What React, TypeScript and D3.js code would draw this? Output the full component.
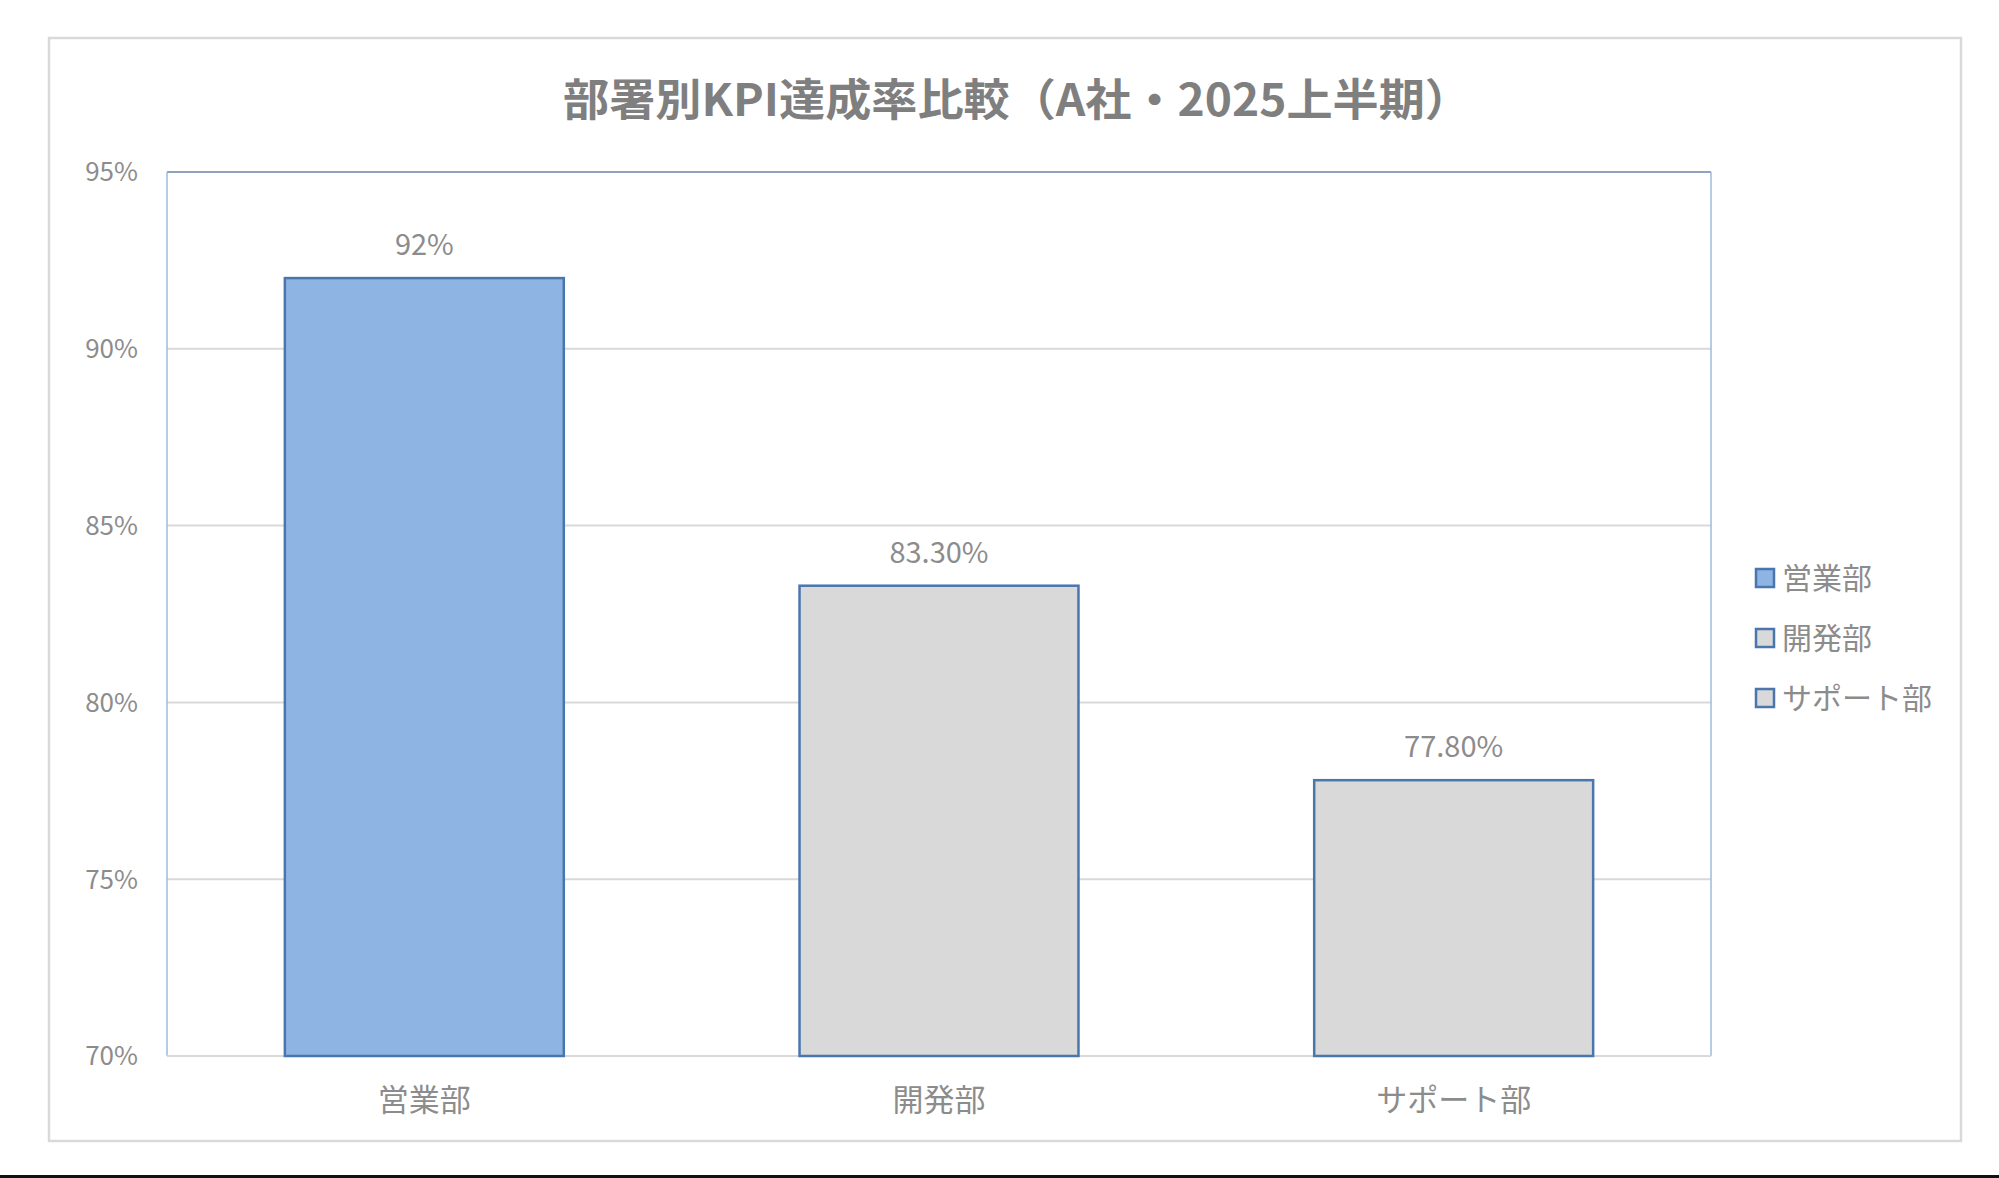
import React, { useEffect, useRef } from 'react';
import * as d3 from 'd3';

const departments = ['営業部', '開発部', 'サポート部'];
const kpiRates = [92, 83.3, 77.8];
const rateLabels = ['92%', '83.30%', '77.80%'];
const barFills = ['#8EB4E3', '#D9D9D9', '#D9D9D9'];
const yTicks = [70, 75, 80, 85, 90, 95];
const chartTitle = '部署別KPI達成率比較（A社・2025上半期）';

const W = 1999;
const H = 1178;
const FONT = '"Noto Sans CJK JP", "Noto Sans", sans-serif';

export default function App() {
  const svgRef = useRef<SVGSVGElement>(null);

  useEffect(() => {
    document.body.style.margin = '0';
    if (!svgRef.current) return;

    const svg = d3.select(svgRef.current);
    svg.selectAll('*').remove();

    const plot = { left: 167, top: 172, right: 1711, bottom: 1056 };

    svg.append('rect').attr('width', W).attr('height', H).attr('fill', '#ffffff');

    // outer chart border
    svg.append('rect')
      .attr('x', 49).attr('y', 38)
      .attr('width', 1912).attr('height', 1103)
      .attr('fill', 'none')
      .attr('stroke', '#D9D9D9')
      .attr('stroke-width', 2.5);

    // dark strip at the very bottom of the screenshot
    svg.append('rect').attr('x', 0).attr('y', H - 3).attr('width', W).attr('height', 3).attr('fill', '#111');

    svg.append('text')
      .attr('x', 1017).attr('y', 116)
      .attr('text-anchor', 'middle')
      .attr('textLength', 908)
      .attr('lengthAdjust', 'spacingAndGlyphs')
      .style('font-family', FONT)
      .style('font-size', '44px')
      .style('font-weight', 700)
      .style('fill', '#7F7F7F')
      .text(chartTitle);

    const x = d3.scaleBand<string>()
      .domain(departments)
      .range([plot.left, plot.right])
      .paddingInner(0.458)
      .paddingOuter(0.229);

    const y = d3.scaleLinear()
      .domain([70, 95])
      .range([plot.bottom, plot.top]);

    // gridlines
    svg.append('g')
      .selectAll('line')
      .data(yTicks.filter(t => t !== 70 && t !== 95))
      .join('line')
      .attr('x1', plot.left).attr('x2', plot.right)
      .attr('y1', d => y(d)).attr('y2', d => y(d))
      .attr('stroke', '#D9D9D9')
      .attr('stroke-width', 2);

    // plot area frame
    svg.append('line')
      .attr('x1', plot.left).attr('x2', plot.right)
      .attr('y1', plot.top).attr('y2', plot.top)
      .attr('stroke', '#8FA3BA').attr('stroke-width', 2);
    svg.append('line')
      .attr('x1', plot.left).attr('x2', plot.left)
      .attr('y1', plot.top).attr('y2', plot.bottom)
      .attr('stroke', '#9DBBDB').attr('stroke-width', 1.5);
    svg.append('line')
      .attr('x1', plot.right).attr('x2', plot.right)
      .attr('y1', plot.top).attr('y2', plot.bottom)
      .attr('stroke', '#9DBBDB').attr('stroke-width', 1.5);
    svg.append('line')
      .attr('x1', plot.left).attr('x2', plot.right)
      .attr('y1', plot.bottom).attr('y2', plot.bottom)
      .attr('stroke', '#D9D9D9').attr('stroke-width', 2);

    // y tick labels
    svg.append('g')
      .selectAll('text')
      .data(yTicks)
      .join('text')
      .attr('x', 138)
      .attr('y', d => y(d))
      .attr('dy', '0.36em')
      .attr('text-anchor', 'end')
      .style('font-family', FONT)
      .style('font-size', '26px')
      .style('fill', '#8C8C8C')
      .text(d => `${d}%`);

    // bars
    svg.append('g')
      .selectAll('rect')
      .data(departments)
      .join('rect')
      .attr('x', d => x(d)!)
      .attr('y', (d, i) => y(kpiRates[i]))
      .attr('width', x.bandwidth())
      .attr('height', (d, i) => plot.bottom - y(kpiRates[i]))
      .attr('fill', (d, i) => barFills[i])
      .attr('stroke', '#4A76AE')
      .attr('stroke-width', 2.5);

    // data labels
    svg.append('g')
      .selectAll('text')
      .data(departments)
      .join('text')
      .attr('x', d => x(d)! + x.bandwidth() / 2)
      .attr('y', (d, i) => y(kpiRates[i]) - 23)
      .attr('text-anchor', 'middle')
      .style('font-family', FONT)
      .style('font-size', '29px')
      .style('fill', '#8C8C8C')
      .text((d, i) => rateLabels[i]);

    // category labels
    svg.append('g')
      .selectAll('text')
      .data(departments)
      .join('text')
      .attr('x', d => x(d)! + x.bandwidth() / 2)
      .attr('y', 1100)
      .attr('dy', '0.36em')
      .attr('text-anchor', 'middle')
      .style('font-family', FONT)
      .style('font-size', '31px')
      .style('fill', '#8C8C8C')
      .text(d => d);

    // legend
    const legend = svg.append('g')
      .selectAll('g')
      .data(departments)
      .join('g')
      .attr('transform', (d, i) => `translate(1756, ${578 + i * 60})`);

    legend.append('rect')
      .attr('x', 0).attr('y', -9)
      .attr('width', 18).attr('height', 18)
      .attr('fill', (d, i) => barFills[i])
      .attr('stroke', '#4A76AE')
      .attr('stroke-width', 2.5);

    legend.append('text')
      .attr('x', 26).attr('y', 0)
      .attr('dy', '0.36em')
      .style('font-family', FONT)
      .style('font-size', '30px')
      .style('fill', '#8C8C8C')
      .text(d => d);
  }, []);

  return (
    <div style={{ width: W, height: H, overflow: 'hidden' }}>
      <svg ref={svgRef} width={W} height={H} style={{ display: 'block' }} />
    </div>
  );
}
